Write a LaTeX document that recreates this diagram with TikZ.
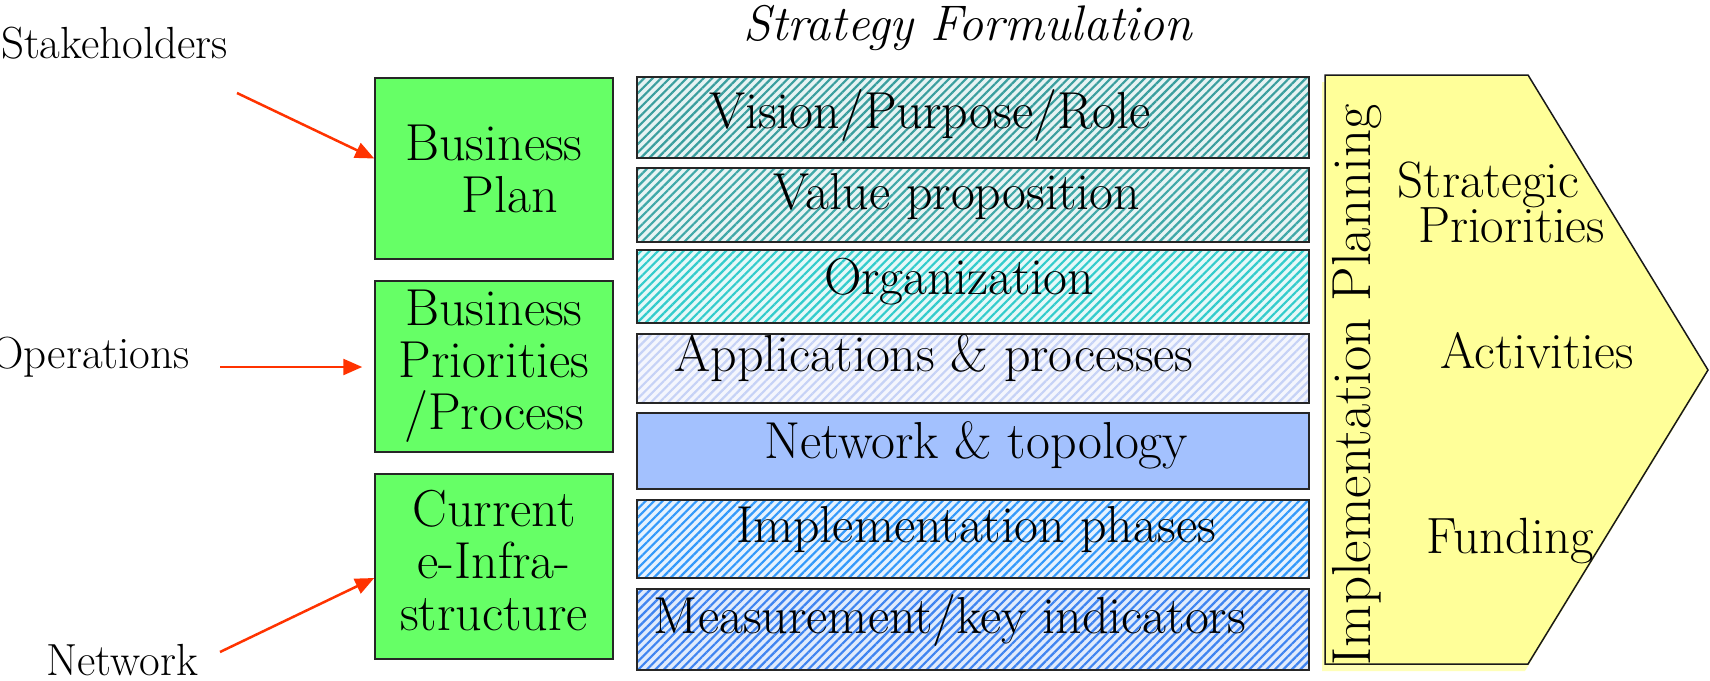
\documentclass[tikz,border=0pt]{standalone}
\usetikzlibrary{patterns.meta,arrows.meta}
\definecolor{grn}{HTML}{66FF66}
\definecolor{arrowred}{HTML}{FF3300}
\definecolor{yel}{HTML}{FFFF99}
\definecolor{yelshadow}{HTML}{FFFFB8}
\definecolor{cVis}{HTML}{3A9E9E}
\definecolor{bVis}{HTML}{E6F3F3}
\definecolor{cVal}{HTML}{40A8A8}
\definecolor{bVal}{HTML}{E8F4F4}
\definecolor{cOrg}{HTML}{33CCCC}
\definecolor{bOrg}{HTML}{E6F8F8}
\definecolor{cApp}{HTML}{C6D2F6}
\definecolor{bApp}{HTML}{F4F6FD}
\definecolor{cNet}{HTML}{A3C1FE}
\definecolor{cImp}{HTML}{3399FA}
\definecolor{bImp}{HTML}{E6F2FE}
\definecolor{cMea}{HTML}{3F84F0}
\definecolor{bMea}{HTML}{E0EBFC}
\begin{document}
\begin{tikzpicture}[x=1pt,y=-1pt,
  greenbox/.style={draw=black!85, line width=1.5pt, fill=grn, minimum width=238pt,
    align=center, font=\fontsize{52}{52}\selectfont, inner sep=0pt},
  hbox/.style={draw=black!85, line width=1.5pt, minimum width=672pt, inner sep=0pt},
  hatch/.style 2 args={pattern={Lines[angle=45,distance=6pt,line width=2.2pt]},
    pattern color=#1, preaction={fill=#2}},
  htext/.style={anchor=base, font=\fontsize{52}{52}\selectfont, inner sep=0pt},
  sidetext/.style={anchor=base east, font=\fontsize{45}{48}\selectfont, inner sep=0pt},
  ytext/.style={font=\fontsize{51}{44}\selectfont, inner sep=0pt, align=center},
  arr/.style={draw=arrowred, line width=2.5pt, -{Triangle[length=19pt,width=16pt]}}
]
\useasboundingbox (0,0) rectangle (1710,680);

% title
\node[anchor=base, font=\fontsize{50}{52}\selectfont\itshape, inner sep=0pt] (title) at (968,40) {Strategy Formulation};

% left labels
\node[sidetext] (stake) at (228,58) {Stakeholders};
\node[sidetext] (oper) at (190,368) {Operations};
\node[sidetext] (netw) at (198,675) {Network};

% green boxes
\node[greenbox, minimum height=181pt] (bp) at (494,168.5) {Business\\\ \ Plan};
\node[greenbox, minimum height=171pt] (bpp) at (494,366.5) {Business\\Priorities\\/Process};
\node[greenbox, minimum height=185pt] (cei) at (494,566.5) {Current\\e-Infra-\\structure\\[-39pt]};

% arrows
\coordinate (s0) at (237,93);
\coordinate (o0) at (220,367);
\coordinate (n0) at (220,652);
\draw[arr] (s0) -- ([yshift=10pt]bp.west);
\draw[arr] (o0) -- ([xshift=-12pt,yshift=-0.5pt]bpp.west);
\draw[arr] (n0) -- ([yshift=-11.5pt]cei.west);

% hatched boxes
\node[hbox, hatch={cVis}{bVis}, minimum height=81pt] (vis) at (973,117.5) {};
\node[hbox, hatch={cVal}{bVal}, minimum height=74pt] (val) at (973,205) {};
\node[hbox, hatch={cOrg}{bOrg}, minimum height=73pt] (org) at (973,286.5) {};
\node[hbox, hatch={cApp}{bApp}, minimum height=69pt] (app) at (973,368.5) {};
\node[hbox, fill=cNet, minimum height=76pt] (net) at (973,451) {};
\node[hbox, hatch={cImp}{bImp}, minimum height=78pt] (imp) at (973,539) {};
\node[hbox, hatch={cMea}{bMea}, minimum height=81pt] (mea) at (973,629.5) {};

\node[htext] (tvis) at (930,128) {Vision/Purpose/Role};
\node[htext] (tval) at (957,209) {Value proposition};
\node[htext] (torg) at (959,294) {Organization};
\node[htext] (tapp) at (934,371) {Applications \& processes};
\node[htext] (tnet) at (976,458) {Network \& topology};
\node[htext] (timp) at (976,542) {Implementation phases};
\node[htext] (tmea) at (950,633) {Measurement/key indicators};

% yellow arrow shape
\fill[yelshadow] (1322,82) -- (1525,82) -- (1705,377) -- (1525,671) -- (1322,671) -- cycle;
\draw[fill=yel, line width=1.5pt, draw=black!90] (1325,75) -- (1528,75) -- (1708,370) -- (1528,664) -- (1325,664) -- cycle;

\node[anchor=base, rotate=90, font=\fontsize{55}{55}\selectfont, inner sep=0pt] (impl) at (1370,385) {Implementation Planning};
\node[ytext, anchor=base] (strat) at (1502,242) {Strategic\hspace*{27pt}\\[-2pt]\hspace*{19pt}Priorities};
\node[ytext, anchor=base] (act) at (1537,368) {Activities};
\node[ytext, anchor=base] (fund) at (1510,553) {Funding};
\end{tikzpicture}
\end{document}
